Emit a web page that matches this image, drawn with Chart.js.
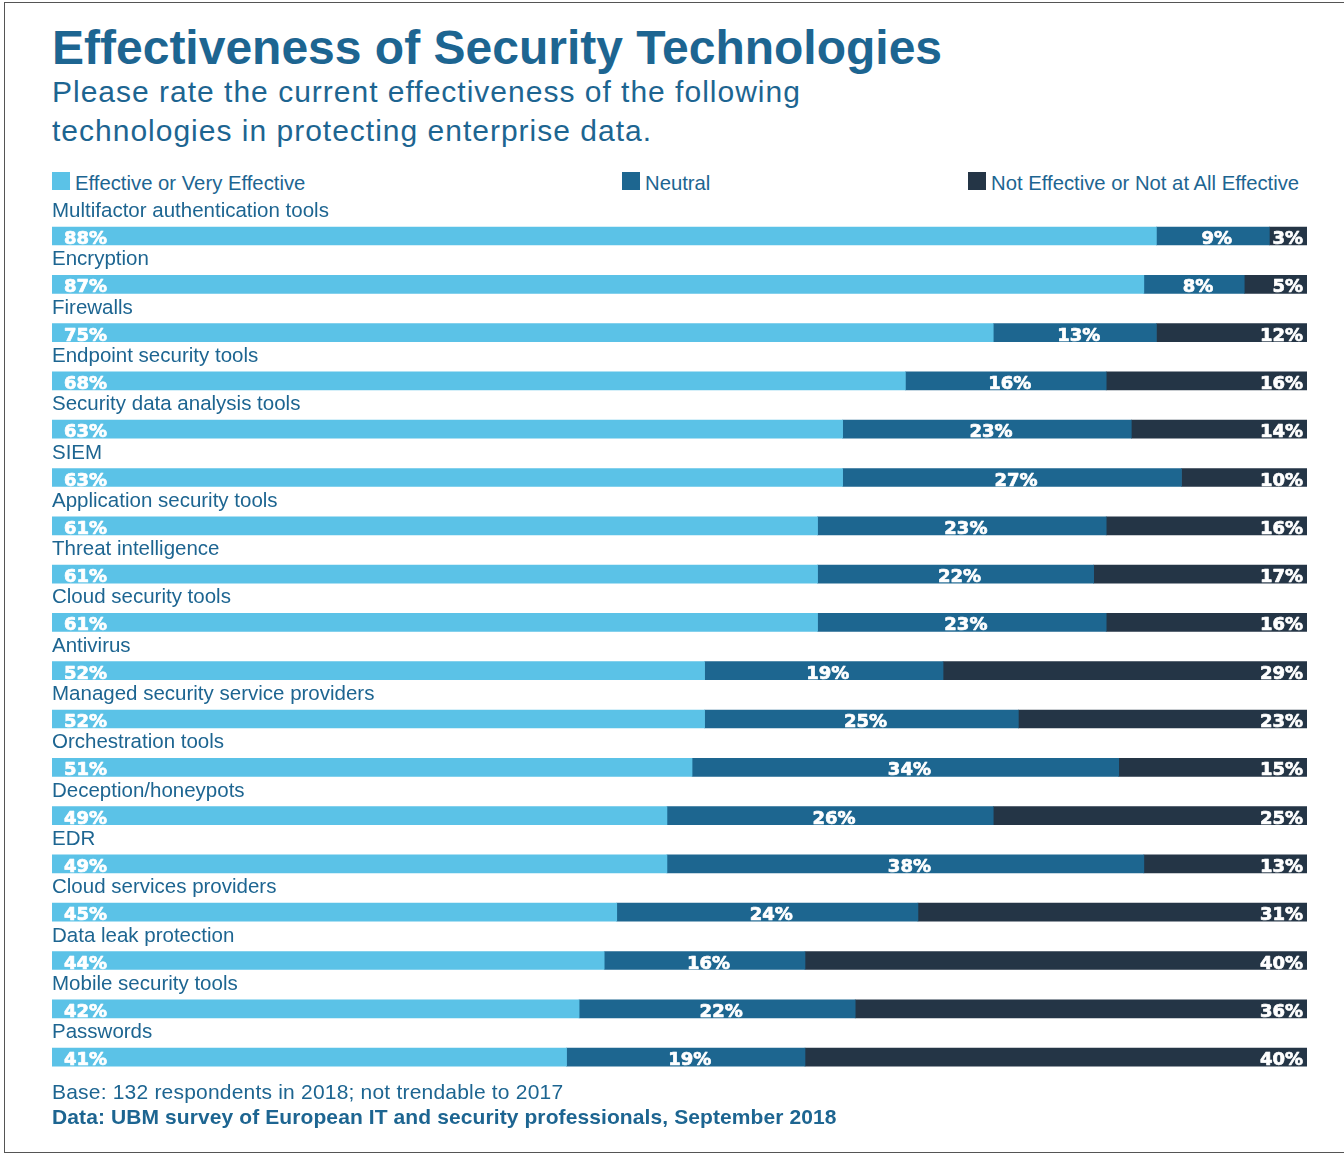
<!DOCTYPE html>
<html>
<head>
<meta charset="utf-8">
<script src="https://cdn.jsdelivr.net/npm/chart.js@4.4.1/dist/chart.umd.min.js"></script>
<style>
  html, body { margin: 0; padding: 0; background: #fff; }
  body { width: 1344px; height: 1154px; position: relative; overflow: hidden;
         font-family: "Liberation Sans", Arial, sans-serif; color: #1d6591; }
  .frame { position: absolute; left: 4px; top: 2px; width: 1400px; height: 1149px;
           border: 1px solid #555; border-right: none; box-sizing: content-box; }
  .t { position: absolute; left: 52px; white-space: nowrap; }
  #title { top: 24px; font-size: 48px; line-height: 48px; font-weight: bold; }
  #sub { top: 72px; font-size: 30px; line-height: 39px; letter-spacing: 1px; }
  .lg { position: absolute; top: 173px; font-size: 20.3px; line-height: 20px; white-space: nowrap; }
  .lg i { position: absolute; left: -23px; top: -1px; width: 18px; height: 18px; }
  #base { top: 1081px; font-size: 21px; line-height: 21px; letter-spacing: 0.2px; }
  #src { top: 1106px; font-size: 21px; line-height: 21px; font-weight: bold; letter-spacing: 0.1px; }
  canvas { position: absolute; left: 0; top: 0; }
</style>
</head>
<body>
<div class="frame"></div>
<div class="t" id="title">Effectiveness of Security Technologies</div>
<div class="t" id="sub">Please rate the current effectiveness of the following<br>technologies in protecting enterprise data.</div>
<div class="lg" style="left:75px"><i style="background:#5bc2e7"></i>Effective or Very Effective</div>
<div class="lg" style="left:645px"><i style="background:#1d6690"></i>Neutral</div>
<div class="lg" style="left:991px"><i style="background:#243546"></i>Not Effective or Not at All Effective</div>
<canvas id="c" width="1344" height="1154"></canvas>
<div class="t" id="base">Base: 132 respondents in 2018; not trendable to 2017</div>
<div class="t" id="src">Data: UBM survey of European IT and security professionals, September 2018</div>

<script>
// Kết quả khảo sát, % người trả lời theo từng công nghệ
const technologies = [
  'Multifactor authentication tools', 'Encryption', 'Firewalls', 'Endpoint security tools',
  'Security data analysis tools', 'SIEM', 'Application security tools', 'Threat intelligence',
  'Cloud security tools', 'Antivirus', 'Managed security service providers', 'Orchestration tools',
  'Deception/honeypots', 'EDR', 'Cloud services providers', 'Data leak protection',
  'Mobile security tools', 'Passwords',
];
const effective    = [88, 87, 75, 68, 63, 63, 61, 61, 61, 52, 52, 51, 49, 49, 45, 44, 42, 41];
const neutral      = [ 9,  8, 13, 16, 23, 27, 23, 22, 23, 19, 25, 34, 26, 38, 24, 16, 22, 19];
const notEffective = [ 3,  5, 12, 16, 14, 10, 16, 17, 16, 29, 23, 15, 25, 13, 31, 40, 36, 40];

const COL = { eff: '#5bc2e7', neu: '#1d6690', not: '#243546', text: '#1d6591' };

// Nhãn tên công nghệ nằm trên thanh + nhãn % trắng trong từng đoạn
const barLabels = {
  id: 'barLabels',
  afterDatasetsDraw(chart) {
    const ctx = chart.ctx;
    ctx.save();
    const m0 = chart.getDatasetMeta(0).data;
    const m1 = chart.getDatasetMeta(1).data;
    const m2 = chart.getDatasetMeta(2).data;
    m0.forEach((bar, i) => {
      const top = bar.y - bar.height / 2;
      ctx.fillStyle = COL.text;
      ctx.font = '20.5px "Liberation Sans", Arial, sans-serif';
      ctx.textAlign = 'left';
      ctx.textBaseline = 'alphabetic';
      ctx.fillText(technologies[i], bar.base, top - 10);

      const by = bar.y + 8;
      ctx.fillStyle = '#fff';
      ctx.strokeStyle = '#fff';
      ctx.lineWidth = 0.7;
      ctx.lineJoin = 'round';
      ctx.font = 'bold 18px "DejaVu Sans", sans-serif';
      const put = (txt, x, align) => {
        ctx.textAlign = align;
        ctx.fillText(txt, x, by);
        ctx.strokeText(txt, x, by);
      };
      put(effective[i] + '%', bar.base + 12, 'left');
      const n = m1[i];
      put(neutral[i] + '%', (n.base + n.x) / 2 + 4, 'center');
      put(notEffective[i] + '%', m2[i].x - 4, 'right');
    });
    ctx.restore();
  },
};

new Chart(document.getElementById('c'), {
  type: 'bar',
  data: {
    labels: technologies,
    datasets: [
      { label: 'Effective or Very Effective', data: effective, backgroundColor: COL.eff },
      { label: 'Neutral', data: neutral, backgroundColor: COL.neu },
      { label: 'Not Effective or Not at All Effective', data: notEffective, backgroundColor: COL.not },
    ],
  },
  options: {
    indexAxis: 'y',
    responsive: false,
    animation: false,
    events: [],
    datasets: { bar: { barThickness: 18, borderWidth: 0, borderSkipped: false } },
    layout: { padding: { left: 52, right: 37, top: 211.85, bottom: 72.75 } },
    plugins: { legend: { display: false }, tooltip: { enabled: false } },
    scales: {
      x: { stacked: true, min: 0, max: 100, display: false },
      y: { stacked: true, display: false },
    },
  },
  plugins: [barLabels],
});
</script>
</body>
</html>
